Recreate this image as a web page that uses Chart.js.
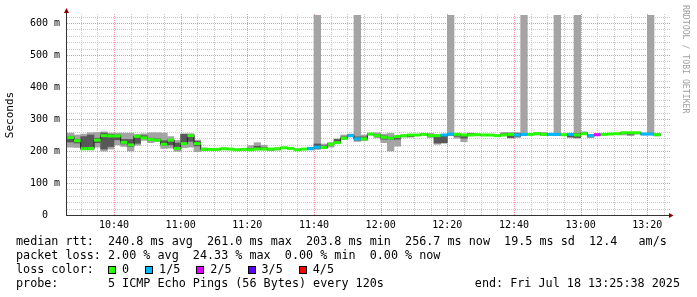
<!DOCTYPE html>
<html lang="en">
<head>
    <meta charset="UTF-8">
    <title>Median RTT - last 3 hours</title>
    <script src="https://cdn.jsdelivr.net/npm/chart.js@4"></script>
    <style>
        body { margin: 0; background: #fff; }
        #wrap { position: relative; width: 697px; height: 297px; font-family: "DejaVu Sans Mono", monospace; color: #000; }
        #chart { position: absolute; left: 0; top: 0; }
        .row { position: absolute; left: 16px; font-size: 11.75px; line-height: 14px; white-space: pre; }
        .box { display: inline-block; width: 6px; height: 6px; border: 1px solid #000; vertical-align: -1px; margin-right: 6px; }
        .lab { margin-right: 16px; }
        #end { left: auto; right: 17px; }
        #mark { position: absolute; left: 681px; top: 5px; writing-mode: vertical-rl; font-size: 8.2px; line-height: 10px; color: #a0a0a0; white-space: pre; }
    </style>
</head>
<body>
<div id="wrap">
    <canvas id="chart" width="697" height="297"></canvas>
    <div id="mark">RRDTOOL / TOBI OETIKER</div>
    <div class="row" style="top:234px">median rtt:  240.8 ms avg  261.0 ms max  203.8 ms min  256.7 ms now  19.5 ms sd  12.4   am/s</div>
    <div class="row" style="top:248px">packet loss: 2.00 % avg  24.33 % max  0.00 % min  0.00 % now</div>
    <div class="row" style="top:262px">loss color:</div>
    <div class="row" id="lossLegend" style="top:262px; left:108px"></div>
    <div class="row" style="top:276px">probe:       5 ICMP Echo Pings (56 Bytes) every 120s</div>
    <div class="row" id="end" style="top:276px">end: Fri Jul 18 13:25:38 2025</div>
</div>

<script>
// sample centres (each sample covers 2 minutes)
const times = [
    '10:27', '10:29', '10:31', '10:33', '10:35', '10:37', '10:39', '10:41', '10:43', '10:45',
    '10:47', '10:49', '10:51', '10:53', '10:55', '10:57', '10:59', '11:01', '11:03', '11:05',
    '11:07', '11:09', '11:11', '11:13', '11:15', '11:17', '11:19', '11:21', '11:23', '11:25',
    '11:27', '11:29', '11:31', '11:33', '11:35', '11:37', '11:39', '11:41', '11:43', '11:45',
    '11:47', '11:49', '11:51', '11:53', '11:55', '11:57', '11:59', '12:01', '12:03', '12:05',
    '12:07', '12:09', '12:11', '12:13', '12:15', '12:17', '12:19', '12:21', '12:23', '12:25',
    '12:27', '12:29', '12:31', '12:33', '12:35', '12:37', '12:39', '12:41', '12:43', '12:45',
    '12:47', '12:49', '12:51', '12:53', '12:55', '12:57', '12:59', '13:01', '13:03', '13:05',
    '13:07', '13:09', '13:11', '13:13', '13:15', '13:17', '13:19', '13:21', '13:23'
];

// ms values of the 5 sorted pings: min, 2nd, median, 4th, max
const pingMin = [
    212, 211, 204, 203, 212, 200, 206, 219, 214, 200,
    218, 233, 226, 229, 208, 209, 199, 210, 212, 198,
    203, 203, 203, 204, 204, 202, 203, 202, 204, 204,
    202, 203, 207, 206, 202, 204, 205, 205, 208, 212,
    224, 236, 244, 230, 232, 250, 241, 226, 200, 215,
    243, 243, 248, 250, 242, 221, 224, 248, 240, 229,
    248, 249, 248, 248, 246, 248, 240, 242, 248, 250,
    250, 248, 249, 248, 249, 242, 240, 252, 242, 249,
    250, 251, 252, 250, 248, 253, 250, 250, 247
];
const pingLow = [
    228, 225, 206, 206, 226, 206, 214, 235, 222, 214,
    224, 239, 234, 232, 218, 219, 204, 222, 230, 216,
    204, 204, 204, 205, 205, 203, 204, 203, 205, 205,
    203, 204, 208, 207, 203, 205, 206, 208, 210, 218,
    226, 238, 246, 234, 236, 252, 246, 237, 236, 237,
    246, 245, 249, 251, 246, 225, 226, 250, 246, 240,
    249, 250, 249, 249, 247, 249, 242, 246, 250, 251,
    252, 250, 250, 250, 250, 244, 242, 253, 244, 250,
    251, 252, 253, 254, 252, 255, 252, 252, 249
];
const medianRtt = [
    242, 232, 207, 208, 234, 248, 247, 247, 227, 219,
    246, 241, 236, 234, 221, 234, 208, 223, 248, 223,
    205, 205, 205, 207, 206, 204, 205, 204, 206, 206,
    206, 207, 210, 208, 204, 206, 207, 212, 211, 221,
    226, 240, 248, 238, 238, 253, 248, 243, 240, 245,
    248, 250, 250, 252, 248, 248, 250, 253, 252, 250,
    250, 251, 250, 250, 248, 250, 252, 250, 252, 252,
    254, 252, 252, 252, 251, 252, 250, 254, 248, 251,
    252, 253, 254, 257, 257, 257, 253, 253, 251
];
const pingHigh = [
    246, 236, 245, 250, 240, 256, 252, 250, 236, 236,
    248, 248, 240, 238, 232, 236, 225, 252, 252, 230,
    206, 206, 206, 209, 207, 205, 206, 208, 215, 210,
    207, 208, 211, 209, 205, 207, 210, 222, 216, 224,
    236, 244, 250, 244, 244, 254, 252, 247, 242, 246,
    249, 251, 251, 253, 250, 248, 250, 255, 253, 250,
    254, 252, 251, 251, 249, 254, 254, 254, 254, 253,
    256, 255, 253, 254, 252, 253, 254, 257, 250, 252,
    253, 254, 255, 258, 258, 258, 255, 256, 253
];
const pingMax = [
    256, 250, 253, 257, 258, 260, 256, 256, 256, 256,
    252, 254, 257, 257, 256, 245, 233, 254, 254, 234,
    210, 207, 207, 209, 208, 206, 207, 217, 226, 218,
    208, 209, 212, 210, 206, 208, 212, 700, 222, 226,
    238, 250, 253, 700, 250, 255, 257, 253, 255, 248,
    250, 252, 252, 254, 255, 250, 252, 700, 254, 251,
    256, 253, 252, 252, 250, 258, 258, 258, 700, 254,
    258, 258, 254, 700, 253, 254, 700, 260, 252, 253,
    254, 255, 256, 259, 259, 259, 256, 700, 254
];
// lost pings out of 5 per sample
const lostPings = [
    0, 0, 0, 0, 0, 0, 0, 0, 0, 0,
    0, 0, 0, 0, 0, 0, 0, 0, 0, 0,
    0, 0, 0, 0, 0, 0, 0, 0, 0, 0,
    0, 0, 0, 0, 0, 0, 1, 1, 0, 0,
    0, 0, 1, 1, 0, 0, 0, 0, 0, 0,
    0, 0, 0, 0, 0, 0, 1, 1, 0, 0,
    0, 0, 0, 0, 0, 0, 0, 1, 1, 0,
    0, 0, 1, 1, 0, 1, 0, 0, 1, 2,
    0, 0, 0, 0, 0, 0, 1, 1, 0
];

const lossLabels = ['0', '1/5', '2/5', '3/5', '4/5'];
const lossColors = ['#26ff00', '#00b8ff', '#dd00ff', '#5e00ff', '#ff0000'];
const timeTicks = ['10:40', '11:00', '11:20', '11:40', '12:00', '12:20', '12:40', '13:00', '13:20'];
const rttTicks = [0, 100, 200, 300, 400, 500, 600];

const toMin = t => { const [h, m] = t.split(':').map(Number); return h * 60 + m; };
const xs = times.map(toMin);
const majorX = timeTicks.map(toMin);

const minorX = [];
for (let v = 630; v <= 805; v += 5) minorX.push(v);
const minorY = [];
for (let v = 20; v <= 620; v += 20) minorY.push(v);

const gridMinor = '#cacaca';
const gridMajor = '#e89494';
const tickFont = { family: 'DejaVu Sans Mono', size: 10 };

// loss colour legend
const legendEl = document.getElementById('lossLegend');
lossLabels.forEach((lab, i) => {
    legendEl.insertAdjacentHTML('beforeend',
        `<span class="box" style="background:${lossColors[i]}"></span><span class="lab">${lab}</span>`);
});

const band = (lo, hi) => xs.map((x, i) => ({ x, y: [lo[i], hi[i]] }));
const points = arr => xs.map((x, i) => ({ x, y: arr[i] }));

// rrdtool style dotted grid, one pixel on / one off
const dottedGrid = {
    id: 'dottedGrid',
    beforeDatasetsDraw(chart) {
        const { ctx, chartArea: a, scales: { x, y } } = chart;
        ctx.save();
        minorY.forEach(v => {
            const py = Math.round(y.getPixelForValue(v));
            ctx.fillStyle = rttTicks.includes(v) ? gridMajor : gridMinor;
            for (let px = Math.round(a.left); px <= a.right + 2; px += 2) ctx.fillRect(px, py, 1, 1);
        });
        minorX.forEach(v => {
            const px = Math.round(x.getPixelForValue(v));
            ctx.fillStyle = majorX.includes(v) ? gridMajor : gridMinor;
            for (let py = Math.round(a.bottom) - 1; py >= a.top - 2; py -= 2) ctx.fillRect(px, py, 1, 1);
        });
        ctx.restore();
    }
};

// axis lines with the small arrow heads
const axisArrows = {
    id: 'axisArrows',
    afterDatasetsDraw(chart) {
        const { ctx, chartArea: a } = chart;
        const x0 = a.left - 0.5, y0 = a.bottom + 0.5;
        ctx.save();
        ctx.strokeStyle = '#333';
        ctx.lineWidth = 1;
        ctx.beginPath();
        ctx.moveTo(x0, y0);
        ctx.lineTo(x0, a.top - 3);
        ctx.moveTo(x0 - 0.5, y0);
        ctx.lineTo(a.right + 2, y0);
        ctx.stroke();
        ctx.fillStyle = '#8b0000';
        ctx.beginPath();
        ctx.moveTo(x0, a.top - 7);
        ctx.lineTo(x0 - 2.5, a.top - 2);
        ctx.lineTo(x0 + 2.5, a.top - 2);
        ctx.fill();
        ctx.beginPath();
        ctx.moveTo(a.right + 5.5, y0);
        ctx.lineTo(a.right + 1, y0 - 2.5);
        ctx.lineTo(a.right + 1, y0 + 2.5);
        ctx.fill();
        ctx.restore();
    }
};

new Chart(document.getElementById('chart'), {
    type: 'line',
    data: {
        datasets: [
            {
                // median, coloured by packet loss
                data: points(medianRtt),
                showLine: false,
                pointStyle: 'line',
                pointRadius: 3.34,
                pointBorderWidth: 3,
                pointBorderColor: lostPings.map(n => lossColors[n]),
                pointBackgroundColor: lostPings.map(n => lossColors[n]),
                order: 0
            },
            {
                data: points(medianRtt),
                stepped: 'middle',
                borderColor: '#202020',
                borderWidth: 1,
                pointRadius: 0,
                fill: false,
                order: 1
            },
            {
                type: 'bar',
                data: band(pingLow, pingHigh),
                backgroundColor: '#585858',
                grouped: false,
                barPercentage: 1,
                categoryPercentage: 1,
                order: 2
            },
            {
                type: 'bar',
                data: band(pingMin, pingMax),
                backgroundColor: '#a4a4a4',
                grouped: false,
                barPercentage: 1,
                categoryPercentage: 1,
                order: 3
            }
        ]
    },
    options: {
        responsive: false,
        animation: false,
        events: [],
        layout: { padding: { left: 0, right: 29, top: 15, bottom: 0 } },
        plugins: { legend: { display: false }, tooltip: { enabled: false } },
        scales: {
            x: {
                type: 'linear',
                min: 625.9,
                max: 806.2,
                offset: false,
                afterBuildTicks: s => { s.ticks = minorX.map(v => ({ value: v })); },
                afterFit: s => { s.height = 82; },
                grid: { display: false, drawTicks: false },
                border: { display: false },
                ticks: {
                    autoSkip: false,
                    maxRotation: 0,
                    padding: 4,
                    color: '#000',
                    font: tickFont,
                    callback: v => {
                        const i = majorX.indexOf(v);
                        return i < 0 ? '' : timeTicks[i];
                    }
                }
            },
            y: {
                min: 0,
                max: 625,
                afterBuildTicks: s => { s.ticks = rttTicks.map(v => ({ value: v })); },
                afterFit: s => { s.width = 67; },
                grid: { display: false, drawTicks: false },
                border: { display: false },
                title: {
                    display: true,
                    text: 'Seconds',
                    color: '#000',
                    font: { family: 'DejaVu Sans Mono', size: 11 },
                    padding: { top: 3.5, bottom: 0 }
                },
                ticks: {
                    autoSkip: false,
                    padding: 7,
                    color: '#000',
                    font: tickFont,
                    callback: v => v === 0 ? '0  ' : v + ' m'
                }
            }
        }
    },
    plugins: [dottedGrid, axisArrows]
});
</script>
</body>
</html>
